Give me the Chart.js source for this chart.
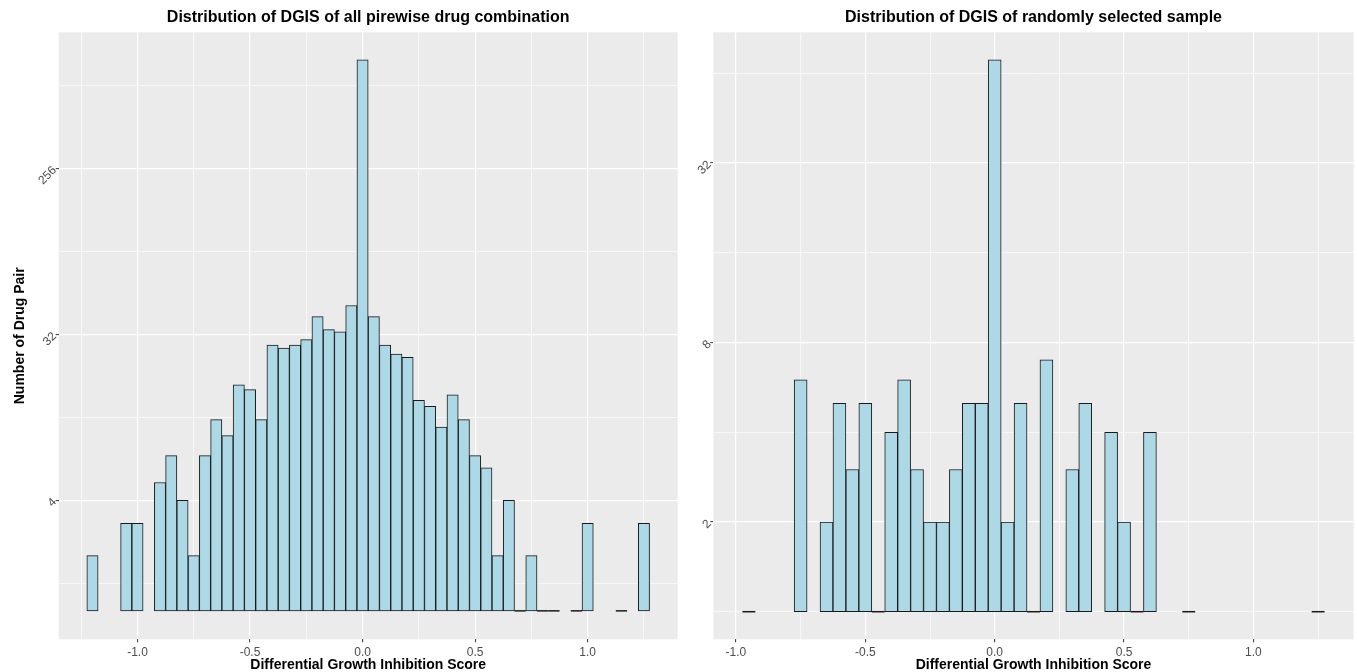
<!DOCTYPE html>
<html>
<head>
<meta charset="utf-8">
<script src="https://cdn.jsdelivr.net/npm/chart.js@4.4.1/dist/chart.umd.min.js"></script>
<style>
  html, body { margin: 0; padding: 0; background: #ffffff; }
  #wrap { position: relative; width: 1357px; height: 672px; overflow: hidden; }
  canvas { position: absolute; top: 0; }
  #leftCanvas { left: 0; }
  #rightCanvas { left: 684px; }
</style>
</head>
<body>
<div id="wrap">
  <canvas id="leftCanvas" width="684" height="672"></canvas>
  <canvas id="rightCanvas" width="673" height="672"></canvas>
</div>
<script>
// ---------------- DATA ----------------
const leftTitle = "Distribution of DGIS of all pirewise drug combination";
const rightTitle = "Distribution of DGIS of randomly selected sample";
const xAxisTitle = "Differential Growth Inhibition Score";
const yAxisTitle = "Number of Drug Pair";

// bin centres (bin width 0.05) and counts, all pairwise combinations
const leftBinCenters = [-1.20, -1.15, -1.10, -1.05, -1.00, -0.95, -0.90, -0.85, -0.80, -0.75,
                        -0.70, -0.65, -0.60, -0.55, -0.50, -0.45, -0.40, -0.35, -0.30, -0.25,
                        -0.20, -0.15, -0.10, -0.05, 0.00, 0.05, 0.10, 0.15, 0.20, 0.25,
                        0.30, 0.35, 0.40, 0.45, 0.50, 0.55, 0.60, 0.65, 0.70, 0.75,
                        0.80, 0.85, 0.90, 0.95, 1.00, 1.05, 1.10, 1.15, 1.20, 1.25];
const leftCounts = [2, 0, 0, 3, 3, 0, 5, 7, 4, 2,
                    7, 11, 9, 17, 16, 11, 28, 27, 28, 30,
                    40, 34, 33, 46, 1000, 40, 28, 25, 24, 14,
                    13, 10, 15, 11, 7, 6, 2, 4, 1, 2,
                    1, 1, 0, 1, 3, 0, 0, 1, 0, 3];

// random sample
const rightBinCenters = [-0.95, -0.90, -0.85, -0.80, -0.75, -0.70, -0.65, -0.60, -0.55, -0.50,
                         -0.45, -0.40, -0.35, -0.30, -0.25, -0.20, -0.15, -0.10, -0.05, 0.00,
                         0.05, 0.10, 0.15, 0.20, 0.25, 0.30, 0.35, 0.40, 0.45, 0.50,
                         0.55, 0.60, 0.65, 0.70, 0.75, 0.80, 0.85, 0.90, 0.95, 1.00,
                         1.05, 1.10, 1.15, 1.20, 1.25];
const rightCounts = [1, 0, 0, 0, 6, 0, 2, 5, 3, 5,
                     1, 4, 6, 3, 2, 2, 3, 5, 5, 71,
                     2, 5, 1, 7, 0, 3, 5, 0, 4, 2,
                     1, 4, 0, 0, 1, 0, 0, 0, 0, 0,
                     0, 0, 0, 0, 1];

// tick values
const xMajorTicks = [-1.0, -0.5, 0.0, 0.5, 1.0];
const xMinorTicks = [-1.25, -0.75, -0.25, 0.25, 0.75, 1.25];
const leftYMajorTicks = [4, 32, 256];
const leftYMinorTicks = [1.414, 11.314, 90.51, 724.08];
const rightYMajorTicks = [2, 8, 32];
const rightYMinorTicks = [1, 4, 16, 64];

// ---------------- STYLE ----------------
const FONT = "'Liberation Sans', Arial, Helvetica, sans-serif";
Chart.defaults.font.family = FONT;
const PANEL_BG = '#EBEBEB';
const BAR_FILL = '#ADD8E6';
const BAR_EDGE = '#1A1A1A';
const TICK_COL = '#4D4D4D';
const TICK_MARK = '#333333';

const panelBg = {
  id: 'panelBg',
  beforeDraw(chart) {
    const {ctx, chartArea: a} = chart;
    ctx.save();
    ctx.fillStyle = PANEL_BG;
    ctx.fillRect(a.left, a.top, a.right - a.left, a.bottom - a.top);
    ctx.restore();
  }
};

const flatBins = {
  id: 'flatBins',
  afterDatasetsDraw(chart) {
    const ctx = chart.ctx;
    const meta = chart.getDatasetMeta(0);
    const raw = chart.data.datasets[0].data;
    ctx.save();
    ctx.strokeStyle = BAR_EDGE;
    ctx.lineWidth = 1.5;
    meta.data.forEach((el, i) => {
      const v = raw[i].y;
      if (Array.isArray(v) && v[0] === v[1]) {
        ctx.beginPath();
        ctx.moveTo(el.x - el.width / 2, el.y);
        ctx.lineTo(el.x + el.width / 2, el.y);
        ctx.stroke();
      }
    });
    ctx.restore();
  }
};

const panelTitle = {
  id: 'panelTitle',
  afterDraw(chart, args, opts) {
    const {ctx, chartArea: a} = chart;
    ctx.save();
    ctx.font = "bold 16px " + FONT;
    ctx.fillStyle = '#000000';
    ctx.textAlign = 'center';
    ctx.textBaseline = 'alphabetic';
    ctx.fillText(opts.text, (a.left + a.right) / 2, 22);
    ctx.restore();
  }
};

// major + minor ticks, keeping only those inside the axis range
function makeTicks(scale, major, minor) {
  return major.map(v => ({value: v, minor: false}))
    .concat(minor.map(v => ({value: v, minor: true})))
    .filter(t => t.value >= scale.min && t.value <= scale.max)
    .sort((a, b) => a.value - b.value);
}

function buildChart(canvasId, cfg) {
  const centers = cfg.centers, counts = cfg.counts;
  const binW = Math.abs(centers[1] - centers[0]);
  const lo = centers[0] - binW / 2, hi = centers[centers.length - 1] + binW / 2;
  const xPad = 0.05 * (hi - lo);
  const L = Math.log2(Math.max(...counts));
  const data = centers.map((c, i) => ({x: c, y: counts[i] > 0 ? [1, counts[i]] : null}));

  return new Chart(document.getElementById(canvasId), {
    type: 'bar',
    data: {
      datasets: [{
        data: data,
        backgroundColor: BAR_FILL,
        borderColor: BAR_EDGE,
        borderWidth: 1,
        borderSkipped: false,
        barPercentage: 1.0,
        categoryPercentage: 1.0
      }]
    },
    options: {
      responsive: false,
      animation: false,
      events: [],
      layout: { padding: { top: 32.3, right: cfg.padRight, left: 0, bottom: 0 } },
      plugins: {
        legend: { display: false },
        tooltip: { enabled: false },
        title: { display: false },
        panelTitle: { text: cfg.title }
      },
      scales: {
        x: {
          type: 'linear',
          offset: false,
          bounds: 'data',
          min: lo - xPad,
          max: hi + xPad,
          afterBuildTicks: s => { s.ticks = makeTicks(s, xMajorTicks, xMinorTicks); },
          afterFit: s => { s.height = 32.7; },
          border: { display: false },
          grid: {
            offset: false,
            color: '#FFFFFF',
            lineWidth: c => (c.tick && c.tick.minor) ? 0.6 : 1.2,
            drawTicks: true,
            tickLength: 3,
            tickColor: c => (c.tick && c.tick.minor) ? 'rgba(0,0,0,0)' : TICK_MARK,
            tickWidth: 1
          },
          ticks: {
            autoSkip: false,
            maxRotation: 0,
            minRotation: 0,
            padding: 3,
            color: TICK_COL,
            font: { size: 12 },
            callback: (v, i, ticks) => ticks[i].minor ? '' : Number(v).toFixed(1)
          },
          title: {
            display: true,
            text: xAxisTitle,
            color: '#000000',
            font: { size: 14, weight: 'bold', lineHeight: 1.0 },
            padding: { top: 0, bottom: 0 }
          }
        },
        y: {
          type: 'logarithmic',
          min: Math.pow(2, -0.05 * L),
          max: Math.pow(2, 1.05 * L),
          afterBuildTicks: s => { s.ticks = makeTicks(s, cfg.yMajor, cfg.yMinor); },
          afterFit: s => { s.width = cfg.yWidth; },
          border: { display: false },
          grid: {
            color: '#FFFFFF',
            lineWidth: c => (c.tick && c.tick.minor) ? 0.6 : 1.2,
            drawTicks: true,
            tickLength: 3,
            tickColor: c => (c.tick && c.tick.minor) ? 'rgba(0,0,0,0)' : TICK_MARK,
            tickWidth: 1
          },
          ticks: {
            autoSkip: false,
            minRotation: 45,
            maxRotation: 45,
            padding: 1,
            color: TICK_COL,
            font: { size: 12 },
            callback: (v, i, ticks) => ticks[i].minor ? '' : String(v)
          },
          title: {
            display: cfg.showYTitle,
            text: yAxisTitle,
            color: '#000000',
            font: { size: 14, weight: 'bold', lineHeight: 1.2 },
            padding: { top: 12, bottom: 0 }
          }
        }
      }
    },
    plugins: [panelBg, flatBins, panelTitle]
  });
}

buildChart('leftCanvas', {
  centers: leftBinCenters, counts: leftCounts, title: leftTitle,
  yMajor: leftYMajorTicks, yMinor: leftYMinorTicks,
  yWidth: 58.7, padRight: 6.3, showYTitle: true
});
buildChart('rightCanvas', {
  centers: rightBinCenters, counts: rightCounts, title: rightTitle,
  yMajor: rightYMajorTicks, yMinor: rightYMinorTicks,
  yWidth: 29.3, padRight: 3.3, showYTitle: false
});
</script>
</body>
</html>
